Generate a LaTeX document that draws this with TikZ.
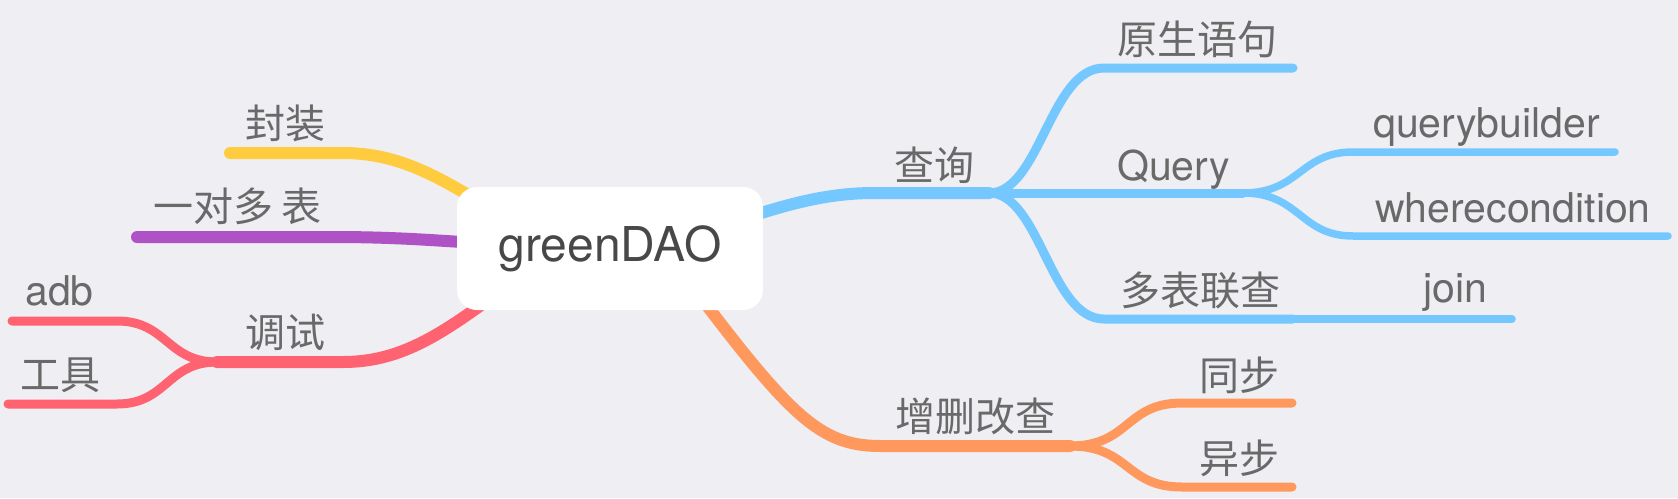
\documentclass[tikz,border=0pt]{standalone}
\usepackage{fontspec}
\setmainfont{TeX Gyre Heros}
\newfontfamily\cjk{Noto Sans CJK SC}
\definecolor{bg}{RGB}{238,238,243}
\definecolor{cyel}{RGB}{255,204,64}
\definecolor{cpur}{RGB}{174,82,198}
\definecolor{cred}{RGB}{255,98,112}
\definecolor{cblu}{RGB}{116,200,255}
\definecolor{cora}{RGB}{255,152,92}
\definecolor{txt}{RGB}{105,105,105}
\definecolor{rtxt}{RGB}{72,72,72}
\begin{document}
\begin{tikzpicture}[x=1pt,y=-1pt,
  lone/.style={line width=12pt,line cap=round},
  ltwo/.style={line width=9pt,line cap=round},
  lthree/.style={line width=7.5pt,line cap=round},
  zh/.style={font=\cjk\fontsize{40}{42}\selectfont,text=txt,inner sep=0pt},
  en/.style={font=\fontsize{41}{45}\selectfont,text=txt,inner sep=0pt,anchor=base},
  rootbox/.style={fill=white,rounded corners=20pt,minimum width=306pt,minimum height=123pt,
    font=\fontsize{48}{52}\selectfont,text=rtxt,inner sep=0pt}]
\fill[bg] (0,0) rectangle (1678,498);
\useasboundingbox (0,0) rectangle (1678,498);

% coordinates
\coordinate (ry) at (490,208);
\coordinate (fzA) at (343,153);
\coordinate (fzE) at (230,153);
\coordinate (rp) at (480,243);
\coordinate (ydA) at (333,237);
\coordinate (ydE) at (137,237);
\coordinate (rr) at (495,295);
\coordinate (tsA) at (343,362);
\coordinate (tsJ) at (217,362);
\coordinate (adbA) at (117,321);
\coordinate (adbE) at (12,321);
\coordinate (gjA) at (117,404);
\coordinate (gjE) at (8,404);
\coordinate (rb) at (740,220);
\coordinate (cxA) at (874,193);
\coordinate (cxJ) at (989,193);
\coordinate (ysA) at (1104,68);
\coordinate (ysE) at (1293,68);
\coordinate (qJ) at (1243,193);
\coordinate (qbA) at (1353,152);
\coordinate (qbE) at (1615,152);
\coordinate (wcA) at (1353,236);
\coordinate (wcE) at (1668,236);
\coordinate (dbA) at (1104,319);
\coordinate (dbE) at (1293,319);
\coordinate (joE) at (1512,319);
\coordinate (ro) at (695,290);
\coordinate (zsA) at (880,446);
\coordinate (zsJ) at (1070,446);
\coordinate (tbA) at (1182,403);
\coordinate (tbE) at (1292,403);
\coordinate (ybA) at (1182,487);
\coordinate (ybE) at (1292,487);

% connectors
\draw[lone,cyel] (ry) .. controls (440,178) and (400,153) .. (fzA) -- (fzE);
\draw[lone,cpur] (rp) .. controls (440,241) and (400,237) .. (ydA) -- (ydE);
\draw[lone,cred] (rr) .. controls (440,335) and (400,362) .. (tsA) -- (tsJ);
\draw[ltwo,cred] (tsJ) .. controls (167,362) and (167,321) .. (adbA) -- (adbE);
\draw[ltwo,cred] (tsJ) .. controls (167,362) and (167,404) .. (gjA) -- (gjE);
\draw[lone,cblu] (rb) .. controls (790,203) and (830,193) .. (cxA) -- (cxJ);
\draw[ltwo,cblu] (cxJ) .. controls (1040,193) and (1050,68) .. (ysA) -- (ysE);
\draw[ltwo,cblu] (cxJ) -- (qJ);
\draw[ltwo,cblu] (cxJ) .. controls (1040,193) and (1050,319) .. (dbA) -- (dbE);
\draw[lthree,cblu] (dbE) -- (joE);
\draw[lthree,cblu] (qJ) .. controls (1300,193) and (1300,152) .. (qbA) -- (qbE);
\draw[lthree,cblu] (qJ) .. controls (1300,193) and (1300,236) .. (wcA) -- (wcE);
\draw[lone,cora] (ro) .. controls (790,415) and (820,446) .. (zsA) -- (zsJ);
\draw[ltwo,cora] (zsJ) .. controls (1130,446) and (1125,403) .. (tbA) -- (tbE);
\draw[ltwo,cora] (zsJ) .. controls (1130,446) and (1125,487) .. (ybA) -- (ybE);

% root
\node[rootbox] (root) at (610,248.5) {greenDAO};

% labels
\node[zh] (fz) at (285,123) {封装};
\node[zh] (yd) at (237.5,206) {一对多 表};
\node[zh] (ts) at (285,332) {调试};
\node[en] (adb) at (59.5,305) {adb};
\node[zh] (gj) at (60.5,375) {工具};
\node[zh] (cx) at (934.5,165) {查询};
\node[zh] (ys) at (1197.5,39.5) {原生语句};
\node[en] (qu) at (1173.5,180) {Query};
\node[en] (qb) at (1486.5,137) {querybuilder};
\node[en] (wc) at (1513,222) {wherecondition};
\node[zh] (db) at (1200,290.5) {多表联查};
\node[en] (jo) at (1455,302) {join};
\node[zh] (zs) at (975,416.5) {增删改查};
\node[zh] (tb) at (1239,375) {同步};
\node[zh] (yb) at (1239,458.5) {异步};
\end{tikzpicture}
\end{document}
